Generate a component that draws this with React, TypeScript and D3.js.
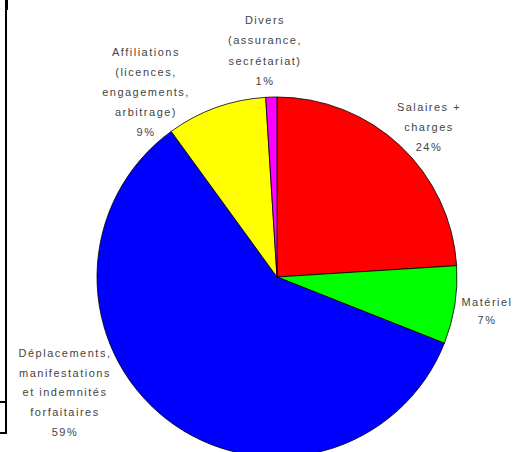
import React from 'react'
import * as d3 from 'd3'

// slices in drawing order, clockwise from 12 o'clock
const categories = ['Salaires + charges', 'Matériel', 'Déplacements, manifestations et indemnités forfaitaires', 'Affiliations (licences, engagements, arbitrage)', 'Divers (assurance, secrétariat)']
const values = [24, 7, 59, 9, 1]
const colors = ['#ff0000', '#00ff00', '#0000ff', '#ffff00', '#ff00ff']
// label text broken into lines, as in the original
const labelLines = [
  ['Salaires +', 'charges', '24%'],
  ['Matériel', '7%'],
  ['Déplacements,', 'manifestations', 'et indemnités', 'forfaitaires', '59%'],
  ['Affiliations', '(licences,', 'engagements,', 'arbitrage)', '9%'],
  ['Divers', '(assurance,', 'secrétariat)', '1%']
]

/**
 * LAYOUT
 */
const W = 525
const H = 452
const cx = 277
const cy = 277
const radius = 180
const lineH = 20
// label block anchors (x, y of first line), placed like the spreadsheet did
const labelAnchor = [
  { x: 429, y: 107, step: 20 },
  { x: 487, y: 302, step: 18 },
  { x: 65, y: 353, step: 19.8 },
  { x: 146, y: 52, step: 20 },
  { x: 265, y: 20, step: 20.5 }
]

const App = () => {
  const pie = d3.pie<number>().sort(null).value(d => d)
  const arcs = pie(values)
  const arc = d3.arc<d3.PieArcDatum<number>>().innerRadius(0).outerRadius(radius)

  return (
    <svg width={W} height={H} style={{ position: 'absolute', left: 0, top: 0 }}>
      <rect width={W} height={H} fill='#fff' />
      {/* bits of the surrounding frame on the left */}
      <g fill='#000'>
        <rect x={5} y={0} width={2} height={434} />
        <rect x={5} y={0} width={3} height={10} />
        <rect x={0} y={401} width={6} height={2} />
        <rect x={0} y={432} width={7} height={2} />
      </g>
      <g transform={`translate(${cx},${cy})`}>
        {arcs.map((a, i) => (
          <path key={categories[i]} d={arc(a) || ''} fill={colors[i]} stroke='#000' strokeWidth={0.8} />
        ))}
      </g>
      <g fontFamily='Liberation Sans, Arial, sans-serif' fontSize={11} fill='#444' textAnchor='middle' letterSpacing={1.5}>
        {labelLines.map((lines, i) => (
          <text key={categories[i]}>
            {lines.map((t, j) => (
              <tspan key={j} x={labelAnchor[i].x} y={labelAnchor[i].y + j * (labelAnchor[i].step || lineH)} dy='0.35em'>{t}</tspan>
            ))}
          </text>
        ))}
      </g>
    </svg>
  )
}

export default App
